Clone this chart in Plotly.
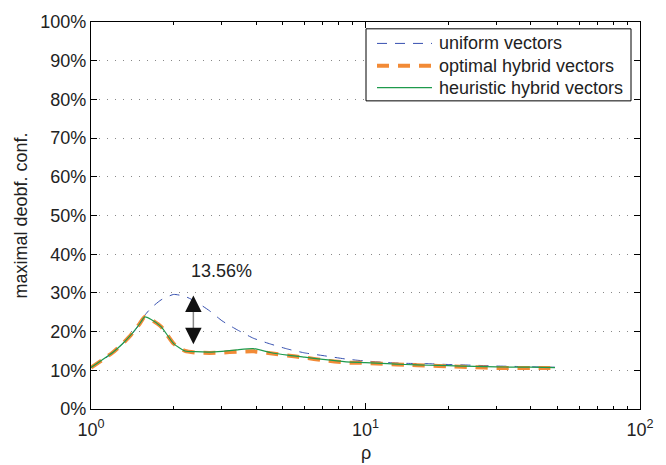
import numpy as np
import plotly.graph_objects as go

rho = [1.0, 1.1, 1.2, 1.3, 1.4, 1.5, 1.57, 1.65, 1.8, 2.0, 2.2, 2.4, 2.7, 3.0, 3.4, 3.9,
       4.5, 5.2, 6.0, 7.0, 8.5, 10, 12, 14, 17, 20, 25, 30, 35, 40, 49]
uniform = [10.7, 12.6, 14.5, 16.8, 19.1, 21.8, 24.2, 26.0, 28.2, 29.6, 29.1, 27.8, 25.4, 22.8,
           20.5, 18.3, 16.8, 15.5, 14.5, 13.8, 12.9, 12.4, 12.0, 11.8, 11.7, 11.5, 11.3, 11.1,
           11.0, 10.9, 10.8]
optimal = [10.7, 12.7, 14.6, 16.8, 19.2, 21.9, 23.8, 23.2, 21.3, 16.9, 15.0, 14.6, 14.5, 14.6,
           14.8, 14.9, 14.4, 13.8, 13.3, 12.6, 12.0, 11.9, 11.6, 11.4, 11.2, 11.0, 10.8, 10.6,
           10.6, 10.6, 10.6]
heuristic = [10.7, 12.7, 14.6, 16.8, 19.2, 21.9, 23.8, 23.2, 21.3, 16.9, 15.0, 14.8, 14.7, 14.9,
             15.3, 15.6, 14.6, 13.9, 13.4, 12.8, 12.2, 12.0, 11.7, 11.5, 11.3, 11.2, 11.0, 10.9,
             10.8, 10.8, 10.7]
names = ["uniform vectors", "optimal hybrid vectors", "heuristic hybrid vectors"]
y_ticks = list(range(0, 101, 10))
y_ticktext = [f"{v}%" for v in y_ticks]
x_ticks = [1, 10, 100]
x_ticktext = ["10<sup>0</sup>", "10<sup>1</sup>", "10<sup>2</sup>"]
gap_label = "13.56%"
gap_label_rho = 2.98
gap_label_y = 35.6
gap_rho = 2.36
gap_top = 29.3
gap_bottom = 16.7

FONT = "Liberation Sans, Arial, Helvetica, sans-serif"
TXT = "#222222"

# plot-area geometry (px) used for placing legend / titles
L, R, T, B = 91, 640, 12, 409.5
W, H = R - L, B - T


def px_x(px):
    return (px - L) / W


def px_y(py):
    return (B - py) / H


styles = [
    dict(color="#3650b0", width=1, dash="10px,8px"),
    dict(color="#f28a36", width=4, dash="12px,9px"),
    dict(color="#1e9a4c", width=1.2, dash="solid"),
]
series = [uniform, optimal, heuristic]

fig = go.Figure()
for nm, ys, st in zip(names, series, styles):
    fig.add_trace(go.Scatter(x=rho, y=ys, name=nm, mode="lines", showlegend=False,
                             line=dict(color=st["color"], width=st["width"], dash=st["dash"],
                                       shape="spline", smoothing=0.5)))

fig.update_layout(
    width=666, height=465,
    margin=dict(l=L, r=666 - R, t=T, b=465 - B),
    paper_bgcolor="white", plot_bgcolor="white",
    font=dict(family=FONT, size=18, color=TXT),
    showlegend=False,
)
fig.update_xaxes(type="log", range=[0, 2], tickvals=x_ticks, ticktext=x_ticktext,
                 ticks="inside", ticklen=6, tickcolor="black", ticklabelstandoff=4,
                 showline=True, linecolor="black", linewidth=1.2, mirror="allticks",
                 showgrid=False, zeroline=False,
                 minor=dict(ticks="inside", ticklen=3, tickcolor="black", dtick="D1", showgrid=False))
fig.update_yaxes(range=[0, 100], tickvals=y_ticks, ticktext=y_ticktext,
                 ticks="inside", ticklen=6, tickcolor="black",
                 showline=True, linecolor="black", linewidth=1.2, mirror="allticks",
                 showgrid=True, gridcolor="#888888", gridwidth=1, griddash="1px,7px",
                 zeroline=False)

# axis titles
fig.add_annotation(text="maximal deobf. conf.", xref="paper", yref="paper",
                   x=px_x(20), y=0.5, textangle=-90, showarrow=False,
                   xanchor="center", yanchor="middle", font=dict(size=18))
fig.add_annotation(text="ρ", xref="paper", yref="paper",
                   x=0.5, y=px_y(455), showarrow=False,
                   xanchor="center", yanchor="middle", font=dict(size=18))

# legend (box + samples + labels)
fig.add_shape(type="rect", xref="paper", yref="paper",
              x0=px_x(366), x1=px_x(631), y0=px_y(93), y1=px_y(19),
              line=dict(color="black", width=1), fillcolor="white", layer="above")
row_y = [34, 57, 79.5]
for nm, st, ry in zip(names, styles, row_y):
    fig.add_shape(type="line", xref="paper", yref="paper",
                  x0=px_x(377), x1=px_x(432), y0=px_y(ry), y1=px_y(ry),
                  line=dict(color=st["color"], width=st["width"], dash=st["dash"]),
                  layer="above")
    fig.add_annotation(text=nm, xref="paper", yref="paper", x=px_x(437), y=px_y(ry),
                       xanchor="left", yanchor="middle", showarrow=False,
                       font=dict(size=18, color=TXT))

# gap annotation (double arrow + label)
fig.add_shape(type="line", xref="x", yref="y",
              x0=gap_rho, x1=gap_rho, y0=gap_bottom + 2, y1=gap_top - 2,
              line=dict(color="#888888", width=1.5))
fig.add_annotation(x=np.log10(gap_rho), y=gap_top, xref="x", yref="y",
                   ax=0, ay=16, showarrow=True, arrowhead=2, arrowsize=2.2,
                   arrowwidth=1.5, arrowcolor="#111111", text="")
fig.add_annotation(x=np.log10(gap_rho), y=gap_bottom, xref="x", yref="y",
                   ax=0, ay=-16, showarrow=True, arrowhead=2, arrowsize=2.2,
                   arrowwidth=1.5, arrowcolor="#111111", text="")
fig.add_annotation(x=np.log10(gap_label_rho), y=gap_label_y, xref="x", yref="y",
                   text=gap_label, showarrow=False, xanchor="center", yanchor="middle",
                   font=dict(size=18))

fig.write_html("out.html")
